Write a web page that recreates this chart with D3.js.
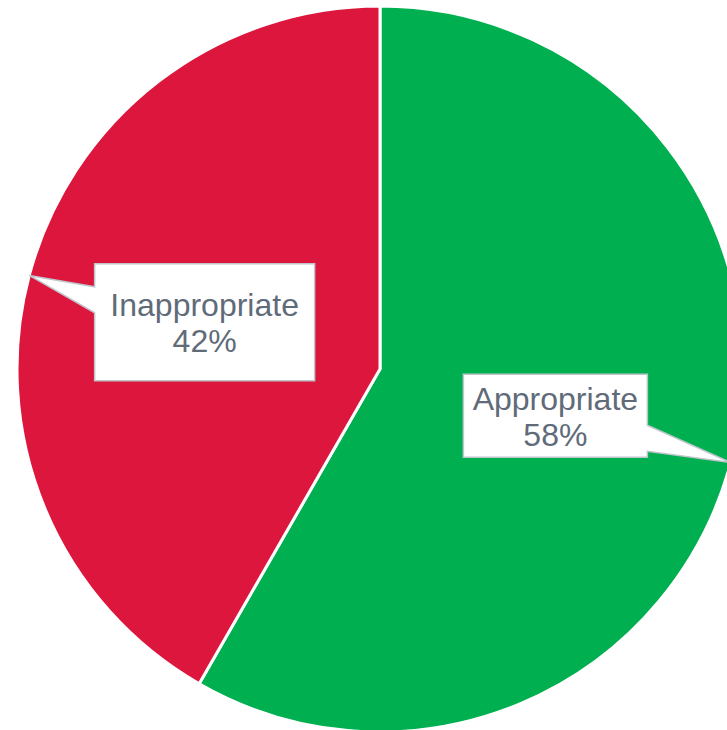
<!DOCTYPE html>
<html>
<head>
<meta charset="utf-8">
<script src="https://cdn.jsdelivr.net/npm/d3@7"></script>
<style>
  body { margin: 0; background: #fff; }
  svg { display: block; }
</style>
</head>
<body>
<svg id="chart"></svg>
<script>
// slice data
const categories = ["Appropriate", "Inappropriate"];
const shares = [58.3, 41.7];
const colors = ["#00B050", "#DC163C"];

// callout box sizes [w, h] per slice
const calloutSize = [[184, 83], [220, 117]];

const width = 727;
const height = 730;
const cx = 380, cy = 369, radius = 363;

const svg = d3.select("#chart")
    .attr("width", width)
    .attr("height", height);

const data = categories.map((c, i) => ({ name: c, value: shares[i], color: colors[i], box: calloutSize[i] }));

const pie = d3.pie().sort(null).value(d => d.value);
const arc = d3.arc().innerRadius(0).outerRadius(radius);
const arcs = pie(data);

const g = svg.append("g")
    .attr("transform", `translate(${cx},${cy})`);

g.selectAll("path.slice")
    .data(arcs)
    .join("path")
    .attr("class", "slice")
    .attr("d", arc)
    .attr("fill", d => d.data.color)
    .attr("stroke", "#fff")
    .attr("stroke-width", 3)
    .attr("stroke-linejoin", "round");

// callouts: box centred on the arc centroid, wedge pointing to outer edge at mid-angle
const callout = g.selectAll("g.callout")
    .data(arcs)
    .join("g")
    .attr("class", "callout");

callout.append("path")
    .attr("fill", "#fff")
    .attr("stroke", "#BFC5CC")
    .attr("stroke-width", 1.5)
    .attr("d", d => {
        const [mx, my] = arc.centroid(d);
        const mid = (d.startAngle + d.endAngle) / 2;
        const tx = radius * Math.sin(mid), ty = -radius * Math.cos(mid);
        const [w, h] = d.data.box;
        const x0 = mx - w / 2, x1 = mx + w / 2, y0 = my - h / 2, y1 = my + h / 2;
        const by = my + (ty - my) * 0.48;
        const hw = 13;
        const p = d3.path();
        if (tx < mx) {
            p.moveTo(x0, y0); p.lineTo(x1, y0); p.lineTo(x1, y1); p.lineTo(x0, y1);
            p.lineTo(x0, by + hw); p.lineTo(tx, ty); p.lineTo(x0, by - hw);
        } else {
            p.moveTo(x0, y0); p.lineTo(x1, y0); p.lineTo(x1, by - hw); p.lineTo(tx, ty);
            p.lineTo(x1, by + hw); p.lineTo(x1, y1); p.lineTo(x0, y1);
        }
        p.closePath();
        return p.toString();
    });

const label = callout.append("text")
    .attr("text-anchor", "middle")
    .attr("font-family", "'Liberation Sans', Arial, sans-serif")
    .attr("font-size", 32)
    .attr("fill", "#5F6B79")
    .attr("transform", d => {
        const [mx, my] = arc.centroid(d);
        return `translate(${mx},${my})`;
    });

label.append("tspan")
    .attr("x", 0)
    .attr("y", -6)
    .text(d => d.data.name);

label.append("tspan")
    .attr("x", 0)
    .attr("y", 30)
    .text(d => d3.format(".0%")(d.data.value / d3.sum(shares)));
</script>
</body>
</html>
